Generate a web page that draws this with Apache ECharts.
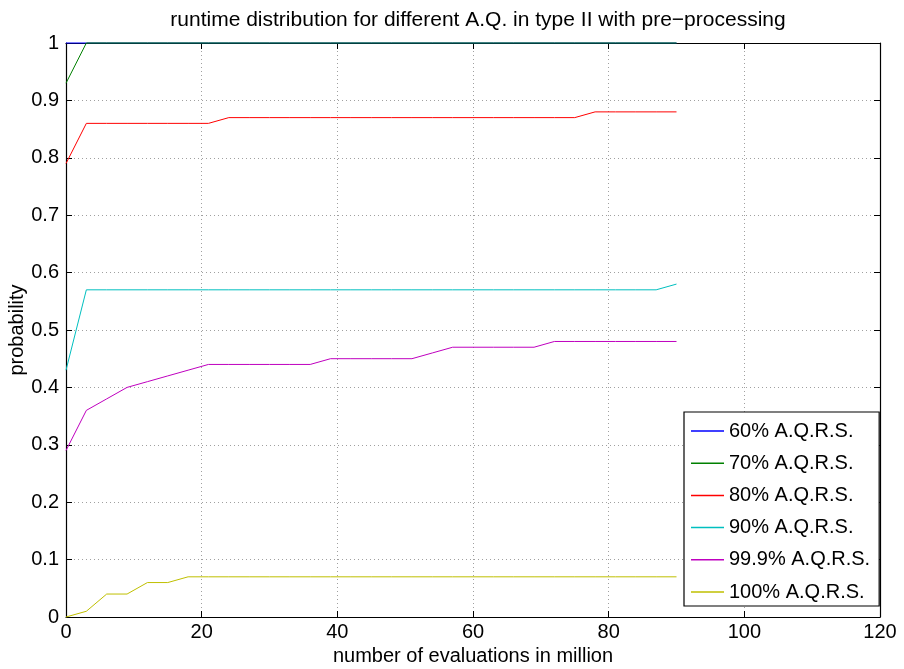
<!DOCTYPE html>
<html>
<head>
<meta charset="utf-8">
<script src="https://cdn.jsdelivr.net/npm/echarts@6/dist/echarts.min.js"></script>
<style>html,body{margin:0;padding:0;background:#fff;}#c{width:904px;height:669px;}</style>
</head>
<body>
<div id="c"></div>
<script>
var titleText = 'runtime distribution for different A.Q. in type II with pre\u2212processing';
var xLabel = 'number of evaluations in million';
var yLabel = 'probability';
var evals = [0,3,6,9,12,15,18,21,24,27,30,33,36,39,42,45,48,51,54,57,60,63,66,69,72,75,78,81,84,87,90];
var seriesNames = ['60% A.Q.R.S.','70% A.Q.R.S.','80% A.Q.R.S.','90% A.Q.R.S.','99.9% A.Q.R.S.','100% A.Q.R.S.'];
var seriesColors = ['#0000ff','#008000','#ff0000','#00bfbf','#bf00bf','#bfbf00'];
var aq60 = [1,1,1,1,1,1,1,1,1,1,1,1,1,1,1,1,1,1,1,1,1,1,1,1,1,1,1,1,1,1,1];
var aq70 = [0.93,1,1,1,1,1,1,1,1,1,1,1,1,1,1,1,1,1,1,1,1,1,1,1,1,1,1,1,1,1,1];
var aq80 = [0.79,0.86,0.86,0.86,0.86,0.86,0.86,0.86,0.87,0.87,0.87,0.87,0.87,0.87,0.87,0.87,0.87,0.87,0.87,0.87,0.87,0.87,0.87,0.87,0.87,0.87,0.88,0.88,0.88,0.88,0.88];
var aq90 = [0.43,0.57,0.57,0.57,0.57,0.57,0.57,0.57,0.57,0.57,0.57,0.57,0.57,0.57,0.57,0.57,0.57,0.57,0.57,0.57,0.57,0.57,0.57,0.57,0.57,0.57,0.57,0.57,0.57,0.57,0.58];
var aq999 = [0.29,0.36,0.38,0.40,0.41,0.42,0.43,0.44,0.44,0.44,0.44,0.44,0.44,0.45,0.45,0.45,0.45,0.45,0.46,0.47,0.47,0.47,0.47,0.47,0.48,0.48,0.48,0.48,0.48,0.48,0.48];
var aq100 = [0,0.01,0.04,0.04,0.06,0.06,0.07,0.07,0.07,0.07,0.07,0.07,0.07,0.07,0.07,0.07,0.07,0.07,0.07,0.07,0.07,0.07,0.07,0.07,0.07,0.07,0.07,0.07,0.07,0.07,0.07];
var allValues = [aq60, aq70, aq80, aq90, aq999, aq100];

var FONT = '"Liberation Sans", Arial, Helvetica, sans-serif';
var chart = echarts.init(document.getElementById('c'), null, {renderer: 'canvas'});

var gridLine = {show: true, lineStyle: {color: '#a0a0a0', type: [1, 3], width: 1}};
var axisLine = {show: true, onZero: false, lineStyle: {color: '#000', width: 1.2}};
var tick = {show: true, inside: true, length: 6, lineStyle: {color: '#000', width: 1}};

var series = seriesNames.map(function (name, i) {
  return {
    name: name,
    type: 'line',
    symbol: 'none',
    clip: false,
    xAxisIndex: 0,
    yAxisIndex: 0,
    lineStyle: {color: seriesColors[i], width: 1},
    itemStyle: {color: seriesColors[i]},
    data: evals.map(function (x, j) { return [x, allValues[i][j]]; })
  };
});

chart.setOption({
  animation: false,
  backgroundColor: '#fff',
  textStyle: {fontFamily: FONT},
  title: {
    text: titleText,
    left: 473, top: 5, textAlign: 'center',
    textStyle: {fontFamily: FONT, fontSize: 21, fontWeight: 'normal', color: '#000'}
  },
  grid: {left: 66, right: 24, top: 43, bottom: 52, containLabel: false, outerBoundsMode: 'none'},
  legend: {
    orient: 'vertical',
    left: 684, top: 412,
    padding: [9, 9, 4, 7],
    icon: 'rect',
    itemWidth: 33, itemHeight: 1.5, itemGap: 12.2,
    backgroundColor: '#fff',
    borderColor: '#000', borderWidth: 1.2, borderRadius: 0,
    textStyle: {fontFamily: FONT, fontSize: 20, color: '#000', lineHeight: 20},
    data: seriesNames
  },
  xAxis: [{
    type: 'value', min: 0, max: 120, interval: 20, position: 'bottom',
    name: xLabel, nameLocation: 'middle', nameGap: 27,
    nameTextStyle: {fontFamily: FONT, fontSize: 20, color: '#000'},
    axisLine: axisLine, axisTick: tick, splitLine: gridLine,
    axisLabel: {fontFamily: FONT, fontSize: 20, color: '#000', margin: 5}
  }, {
    type: 'value', min: 0, max: 120, interval: 20, position: 'top',
    axisLine: axisLine, axisTick: tick, splitLine: {show: false},
    axisLabel: {show: false}
  }],
  yAxis: [{
    type: 'value', min: 0, max: 1, interval: 0.1, position: 'left',
    name: yLabel, nameLocation: 'middle', nameGap: 39, nameMoveOverlap: false,
    nameTextStyle: {fontFamily: FONT, fontSize: 20, color: '#000'},
    axisLine: axisLine, axisTick: tick, splitLine: gridLine,
    axisLabel: {fontFamily: FONT, fontSize: 20, color: '#000', margin: 7,
      formatter: function (v) { return String(Math.round(v * 10) / 10); }}
  }, {
    type: 'value', min: 0, max: 1, interval: 0.1, position: 'right',
    axisLine: axisLine, axisTick: tick, splitLine: {show: false},
    axisLabel: {show: false}
  }],
  series: series
});
</script>
</body>
</html>
